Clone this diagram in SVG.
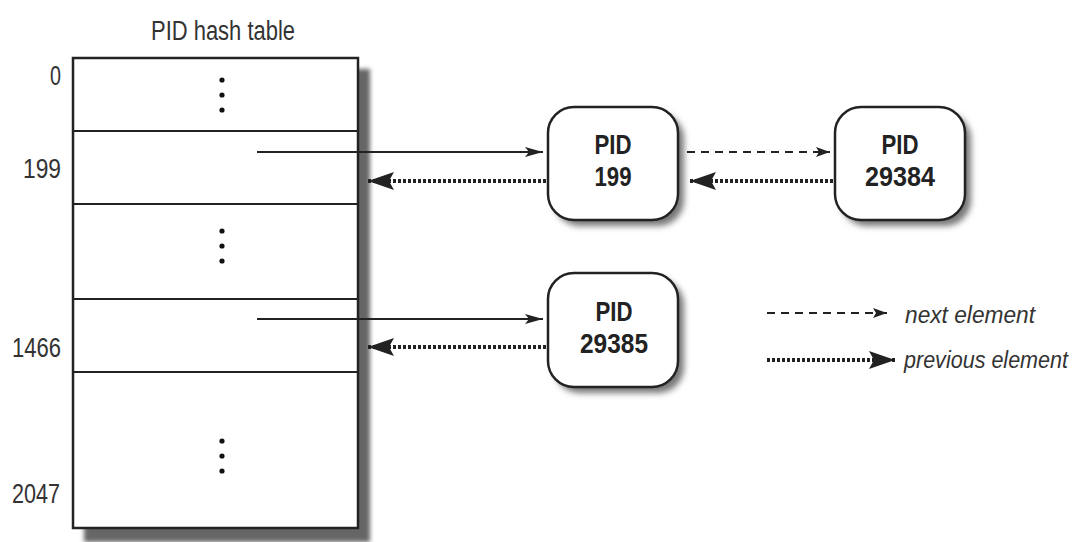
<svg xmlns="http://www.w3.org/2000/svg" width="1078" height="542" viewBox="0 0 1078 542">
<style>
.lbl{font-family:"Liberation Sans Narrow","Liberation Sans",Arial,sans-serif;font-size:27px;fill:#333;}
.node-t{font-family:"Liberation Sans Narrow","Liberation Sans",Arial,sans-serif;font-size:28px;font-weight:bold;fill:#222;text-anchor:middle;}
.leg{font-family:"Liberation Sans Narrow","Liberation Sans",Arial,sans-serif;font-size:23px;font-style:italic;fill:#333;}
.box{fill:#fff;stroke:#222;stroke-width:2.5;}
.row{stroke:#222;stroke-width:2;}
.solid{stroke:#222;stroke-width:2;fill:none;}
.dashed{stroke:#222;stroke-width:2;stroke-dasharray:8 6;fill:none;}
.dotted{stroke:#222;stroke-width:4;stroke-dasharray:3 2;fill:none;}
.dot{fill:#111;}
</style>
<defs>
<filter id="sh" x="-20%" y="-20%" width="150%" height="150%">
<feGaussianBlur stdDeviation="3"/>
</filter>
<filter id="shT" x="-20%" y="-20%" width="150%" height="150%">
<feGaussianBlur stdDeviation="2"/>
</filter>
<marker id="aSolid" markerUnits="userSpaceOnUse" viewBox="0 0 18 10" refX="18" refY="5" markerWidth="18" markerHeight="10" orient="auto">
<path d="M0,0 L18,5 L0,10 L4,5 Z" fill="#222"/>
</marker>
<marker id="aDash" markerUnits="userSpaceOnUse" viewBox="0 0 14 10" refX="14" refY="5" markerWidth="14" markerHeight="10" orient="auto">
<path d="M0,0 L14,5 L0,10 L3,5 Z" fill="#222"/>
</marker>
<marker id="aDot" markerUnits="userSpaceOnUse" viewBox="0 0 26 18" refX="26" refY="9" markerWidth="26" markerHeight="18" orient="auto">
<path d="M0,0 L26,9 L0,18 L5,9 Z" fill="#222"/>
</marker>
</defs>
<rect width="1078" height="542" fill="#fff"/>

<g id="title">
<text class="lbl" x="151" y="40" textLength="144" lengthAdjust="spacingAndGlyphs">PID hash table</text>
</g>

<g id="hash-table">
<rect x="84" y="69" width="286" height="473" fill="#666" filter="url(#shT)"/>
<rect class="box" x="73" y="58" width="285" height="470" stroke-width="2"/>
<line class="row" x1="73" y1="131" x2="358" y2="131"/>
<line class="row" x1="73" y1="204" x2="358" y2="204"/>
<line class="row" x1="73" y1="299" x2="358" y2="299"/>
<line class="row" x1="73" y1="372" x2="358" y2="372"/>
<circle class="dot" cx="222" cy="80" r="2.6"/>
<circle class="dot" cx="222" cy="95" r="2.6"/>
<circle class="dot" cx="222" cy="110" r="2.6"/>
<circle class="dot" cx="222" cy="231" r="2.6"/>
<circle class="dot" cx="222" cy="246" r="2.6"/>
<circle class="dot" cx="222" cy="261" r="2.6"/>
<circle class="dot" cx="222" cy="441" r="2.6"/>
<circle class="dot" cx="222" cy="456" r="2.6"/>
<circle class="dot" cx="222" cy="471" r="2.6"/>
</g>

<g id="index-labels">
<text class="lbl" x="61" y="85" text-anchor="end" textLength="11" lengthAdjust="spacingAndGlyphs">0</text>
<text class="lbl" x="61" y="178" text-anchor="end" textLength="38" lengthAdjust="spacingAndGlyphs">199</text>
<text class="lbl" x="61" y="357" text-anchor="end" textLength="49" lengthAdjust="spacingAndGlyphs">1466</text>
<text class="lbl" x="60" y="503" text-anchor="end" textLength="48" lengthAdjust="spacingAndGlyphs">2047</text>
</g>

<g id="node-199">
<rect x="554" y="113" width="130" height="113" rx="26" fill="#777" filter="url(#sh)"/>
<rect class="box" x="548" y="107" width="130" height="113" rx="26"/>
<text class="node-t" x="613" y="154" textLength="37" lengthAdjust="spacingAndGlyphs">PID</text>
<text class="node-t" x="613" y="186" textLength="37" lengthAdjust="spacingAndGlyphs">199</text>
</g>

<g id="node-29384">
<rect x="841" y="113" width="130" height="113" rx="26" fill="#777" filter="url(#sh)"/>
<rect class="box" x="835" y="107" width="130" height="113" rx="26"/>
<text class="node-t" x="900" y="154" textLength="37" lengthAdjust="spacingAndGlyphs">PID</text>
<text class="node-t" x="900" y="186" textLength="70" lengthAdjust="spacingAndGlyphs">29384</text>
</g>

<g id="node-29385">
<rect x="554" y="279" width="130" height="114" rx="26" fill="#777" filter="url(#sh)"/>
<rect class="box" x="548" y="273" width="130" height="114" rx="26"/>
<text class="node-t" x="614" y="321" textLength="37" lengthAdjust="spacingAndGlyphs">PID</text>
<text class="node-t" x="614" y="353" textLength="68" lengthAdjust="spacingAndGlyphs">29385</text>
</g>

<g id="connectors">
<line class="solid" x1="257" y1="152" x2="543" y2="152" marker-end="url(#aSolid)"/>
<line class="dotted" x1="546" y1="181" x2="368" y2="181" marker-end="url(#aDot)"/>
<line class="dashed" x1="687" y1="152" x2="830" y2="152" marker-end="url(#aDash)"/>
<line class="dotted" x1="833" y1="181" x2="690" y2="181" marker-end="url(#aDot)"/>
<line class="solid" x1="257" y1="319" x2="543" y2="319" marker-end="url(#aSolid)"/>
<line class="dotted" x1="546" y1="347" x2="368" y2="347" marker-end="url(#aDot)"/>
</g>

<g id="legend">
<line class="dashed" x1="767" y1="313" x2="887" y2="313" marker-end="url(#aDash)"/>
<text class="leg" x="905" y="323" textLength="130" lengthAdjust="spacingAndGlyphs">next element</text>
<line class="dotted" x1="767" y1="360" x2="895" y2="360" marker-end="url(#aDot)"/>
<text class="leg" x="904" y="368" textLength="164" lengthAdjust="spacingAndGlyphs">previous element</text>
</g>
</svg>
